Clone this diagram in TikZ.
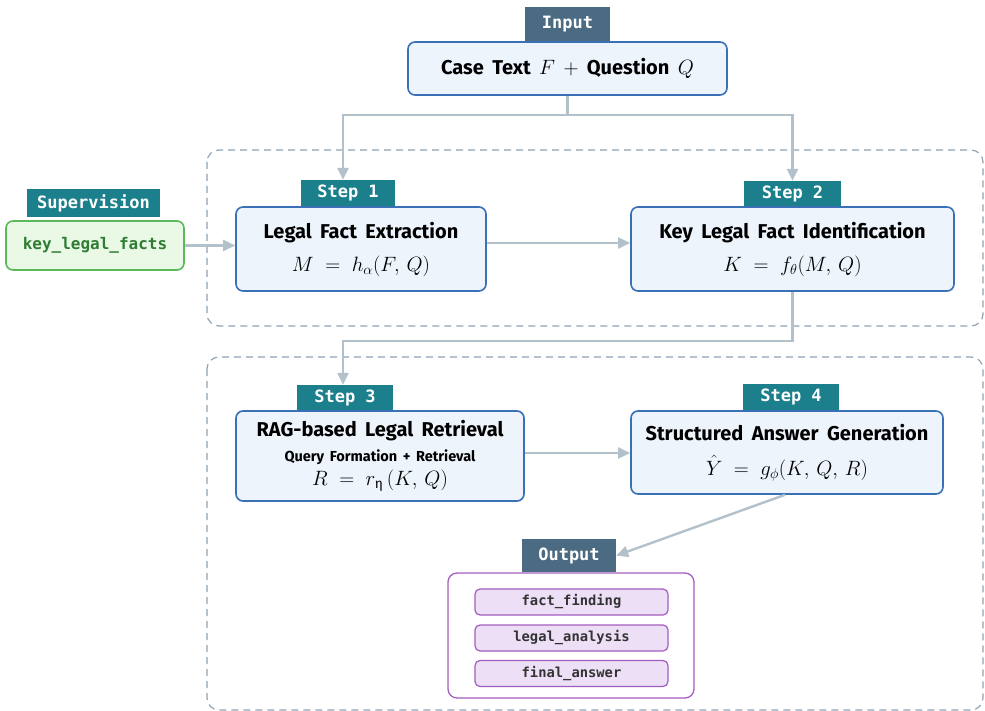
\documentclass[tikz,border=0pt]{standalone}
\usepackage{amsmath}
\usepackage{fontspec}
\setmainfont{Fira Sans}
\setmonofont{DejaVu Sans Mono}
\usetikzlibrary{arrows.meta,calc}

\definecolor{tagteal}{HTML}{1B7F8C}
\definecolor{tagslate}{HTML}{4A6B82}
\definecolor{boxline}{HTML}{3A70B5}
\definecolor{boxfill}{HTML}{EEF4FC}
\definecolor{zoneline}{HTML}{8FA3B5}
\definecolor{arrowgray}{HTML}{B3C1CB}
\definecolor{supline}{HTML}{5CB85C}
\definecolor{supfill}{HTML}{EAF8E6}
\definecolor{suptext}{HTML}{2E7D32}
\definecolor{outline}{HTML}{A35DC0}
\definecolor{outfill}{HTML}{EDE0F6}

% bold heading with wide word spacing
\newcommand\headtxt[1]{{\bfseries\fontsize{20}{24}\selectfont\spaceskip=0.42em\relax #1}}
% formula line
\newcommand\formula[1]{{\fontsize{19.5}{23}\selectfont #1}}

\tikzset{
  zone/.style={draw=zoneline, line width=1.2pt, dash pattern=on 7pt off 5pt, rounded corners=12pt},
  stepbox/.style={draw=boxline, fill=boxfill, line width=1.6pt, rounded corners=7pt, align=center, inner sep=0pt},
  tagbox/.style={fill=tagteal, text=white, inner sep=0pt, font=\ttfamily\bfseries\fontsize{17}{20}\selectfont},
  slatetag/.style={tagbox, fill=tagslate},
  conn/.style={draw=arrowgray, line width=2.4pt},
  arr/.style={conn, -{Triangle[length=12pt,width=11pt]}},
  itembox/.style={draw=outline, fill=outfill, line width=1.2pt, rounded corners=5pt, inner sep=0pt,
    minimum width=193pt, minimum height=26pt, font=\ttfamily\bfseries\fontsize{13.8}{16}\selectfont, text=black!80}
}

\begin{document}
\begin{tikzpicture}[x=1pt, y=-1pt]
\useasboundingbox (0,0) rectangle (985,711);

% dashed stage zones
\draw[zone] (207,150) rectangle (983,326);
\draw[zone] (207,357) rectangle (983,710);

% input
\node[stepbox, minimum width=319pt, minimum height=53pt]
  (in) at (567.5,68.5) {\headtxt{Case Text \formula{$F$} \formula{$+$} Question \formula{$Q$}}};
\node[slatetag, minimum width=85pt, minimum height=34pt, anchor=south] (intag) at (in.north) {Input};

% step 1
\node[stepbox, minimum width=250pt, minimum height=84pt] (s1) at (361,249)
  {\headtxt{Legal Fact Extraction}\\[12pt]
   \formula{$M \;=\; h_{\alpha}(F,\, Q)$}};
\node[tagbox, minimum width=94pt, minimum height=26pt, anchor=south] (s1tag) at ($(s1.north)+(-13,0)$) {Step 1};

% step 2
\node[stepbox, minimum width=323pt, minimum height=84pt] (s2) at (792.5,249)
  {\headtxt{Key Legal Fact Identification}\\[12pt]
   \formula{$K \;=\; f_{\theta}(M,\, Q)$}};
\node[tagbox, minimum width=97pt, minimum height=25pt, anchor=south] (s2tag) at (s2.north) {Step 2};

% supervision
\node[draw=supline, fill=supfill, line width=1.6pt, rounded corners=7pt, minimum width=178pt, minimum height=49pt,
  text=suptext, font=\ttfamily\bfseries\fontsize{16}{19}\selectfont] (sup) at (95,245.5) {key\_legal\_facts};
\node[tagbox, minimum width=133pt, minimum height=28pt, anchor=south] (suptag) at ($(sup.north)+(-1.5,-3)$) {Supervision};

% step 3
\node[stepbox, minimum width=288pt, minimum height=90pt] (s3) at (380,456)
  {\headtxt{RAG-based Legal Retrieval}\\[8pt]
   {\bfseries\fontsize{14.5}{17}\selectfont\spaceskip=0.38em\relax Query Formation + Retrieval}\\[4pt]
   \formula{$R \;=\; r_{\text{η}}\,(K,\, Q)$}};
\node[tagbox, minimum width=96pt, minimum height=25pt, anchor=south] (s3tag) at ($(s3.north)+(-35,0)$) {Step 3};

% step 4
\node[stepbox, minimum width=312pt, minimum height=83pt] (s4) at (787,452.5)
  {\headtxt{Structured Answer Generation}\\[14pt]
   \formula{$\hat{Y} \;=\; g_{\phi}(K,\, Q,\, R)$}};
\node[tagbox, minimum width=96pt, minimum height=26pt, anchor=south] (s4tag) at ($(s4.north)+(4,0)$) {Step 4};

% output
\node[draw=outline, fill=white, line width=1.3pt, rounded corners=9pt, minimum width=246pt, minimum height=125pt]
  (out) at (571,635.5) {};
\node[slatetag, minimum width=94pt, minimum height=33pt, anchor=south] (outtag) at ($(out.north)+(-2,0)$) {Output};
\node[itembox] (o1) at (571.5,602) {fact\_finding};
\node[itembox] (o2) at (571.5,638) {legal\_analysis};
\node[itembox] (o3) at (571.5,673.5) {final\_answer};

% connectors
\draw[conn] (in.south) -- ++(0,19) coordinate (split);
\coordinate (s1in) at ($(s1tag.north)+(-5,0)$);
\draw[arr] (split) -| (s1in);
\draw[arr] (split) -| (s2tag.north);
\draw[arr] (sup.east) -- (s1.west |- sup.east);
\draw[arr] (s1.east |- 0,243) -- (s2.west |- 0,243);
\coordinate (s3in) at ($(s3tag.north)+(-2,0)$);
\draw[arr] (s2.south) -- ++(0,49) -| (s3in);
\draw[arr] (s3.east |- 0,453) -- (s4.west |- 0,453);
\draw[arr] ($(s4.south)+(-2,0)$) -- (outtag.east);
\end{tikzpicture}
\end{document}
